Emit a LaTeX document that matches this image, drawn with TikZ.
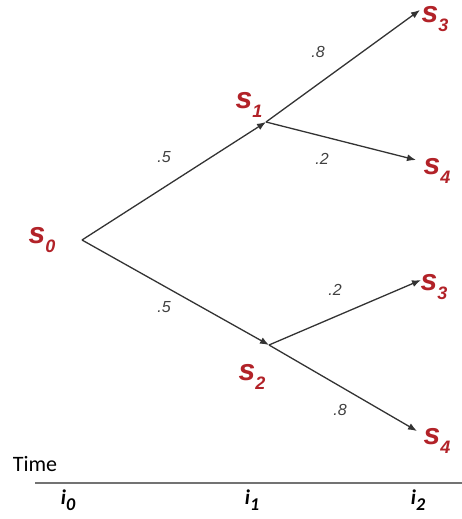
\documentclass[tikz,border=0pt]{standalone}
\usepackage{fontspec}
\setmainfont{Carlito}
\newfontfamily\arialish{Liberation Sans}
\usepackage{xcolor}
\usetikzlibrary{arrows.meta}
\definecolor{statered}{RGB}{178,34,40}
\newcommand{\stsub}[2]{#1\raisebox{-0.28em}{\fontsize{18}{18}\selectfont #2}}

\begin{document}
\begin{tikzpicture}[x=1pt,y=1pt,
state/.style={inner sep=0.5pt,text=statered,font=\fontsize{30}{30}\selectfont\arialish\bfseries\itshape},
prob/.style={text=black!75,font=\fontsize{16}{16}\selectfont\arialish\itshape},
tick/.style={font=\fontsize{21}{21}\selectfont\bfseries\itshape},
branch/.style={-{Latex[length=9pt,width=7pt]},black!80,line width=1.3pt}]
\useasboundingbox (0,0) rectangle (462,519);
% tree
\coordinate (root) at (82,279);
\coordinate (j1) at (266,397);
\coordinate (j2) at (269,174);
\coordinate (e13) at (420,509);
\coordinate (e14) at (416,359);
\coordinate (e23) at (421,239);
\coordinate (e24) at (417,88);
\node[state] (s0) at (42,279) {\stsub{s}{0}};
\node[state] (s1) at (249,414) {\stsub{s}{1}};
\node[state] (s2) at (252,142) {\stsub{s}{2}};
\node[state] (s13) at (435,500) {\stsub{s}{3}};
\node[state] (s14) at (437,348) {\stsub{s}{4}};
\node[state] (s23) at (434,232) {\stsub{s}{3}};
\node[state] (s24) at (437,78) {\stsub{s}{4}};
\draw[branch] (root) -- (j1);
\draw[branch] (root) -- (j2);
\draw[branch] (j1) -- (e13);
\draw[branch] (j1) -- (e14);
\draw[branch] (j2) -- (e23);
\draw[branch] (j2) -- (e24);
\node[prob] (p01) at (164,362) {.5};
\node[prob] (p02) at (164,212) {.5};
\node[prob] (p13) at (318,467) {.8};
\node[prob] (p14) at (322,360) {.2};
\node[prob] (p23) at (335,229) {.2};
\node[prob] (p24) at (340,109) {.8};
% time axis
\node[font=\fontsize{22}{22}\selectfont] (time) at (35,55) {Time};
\draw[black!55,line width=2.2pt] (35,36) -- (462,36);
\node[tick] (i0) at (68,19) {\stsub{i}{0}};
\node[tick] (i1) at (252,19) {\stsub{i}{1}};
\node[tick] (i2) at (418,19) {\stsub{i}{2}};
\end{tikzpicture}
\end{document}
